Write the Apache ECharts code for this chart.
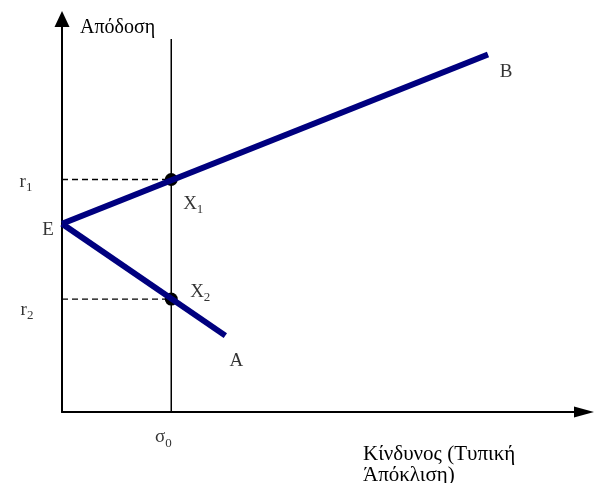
<!DOCTYPE html>
<html>
<head>
<meta charset="utf-8">
<script src="https://cdn.jsdelivr.net/npm/echarts@6/dist/echarts.min.js"></script>
<style>
  html, body { margin: 0; padding: 0; background: #fff; }
  #chart { width: 595px; height: 483px; }
</style>
</head>
<body>
<div id="chart"></div>
<script>
// Risk (σ) / return (r) diagram: two portfolio lines starting at E.
const riskMax = 47.3;
const returnMax = 35.5;

const pointE = [0, 17];
const pointB = [38.6, 32.3];
const pointA = [14.8, 6.9];
const sigma0 = 9.9;
const r1 = 21;
const r2 = 10.2;
const sigmaLineTop = 33.7;

const axisNameY = 'Απόδοση';
const axisNameX = 'Κίνδυνος (Τυπική\nΆπόκλιση)';

const serif = '"Liberation Serif", "DejaVu Serif", serif';
const ink = '#000';
const navy = '#00007f';

const rich = {
  b: { fontFamily: serif, fontSize: 19, color: ink, verticalAlign: 'bottom', padding: [0, 0, 3, 0] },
  s: { fontFamily: serif, fontSize: 13, color: ink, verticalAlign: 'bottom' }
};

function note(coord, main, sub, offset) {
  const text = sub ? '{b|' + main + '}{s|' + sub + '}' : '{b|' + main + '}';
  return {
    value: coord,
    label: { show: true, position: 'inside', formatter: text, offset: offset, rich: rich }
  };
}

const notes = [
  note(pointE, 'E', '', [-14, 8]),
  note(pointB, 'B', '', [18, 19]),
  note(pointA, 'A', '', [11, 27]),
  note([sigma0, r1], 'X', '1', [22, 26]),
  note([sigma0, r2], 'X', '2', [29, -6]),
  note([0, r1], 'r', '1', [-36, 4]),
  note([0, r2], 'r', '2', [-35, 12]),
  note([sigma0, 0], 'σ', '0', [-8, 27])
];

const chart = echarts.init(document.getElementById('chart'));
chart.setOption({
  animation: false,
  backgroundColor: '#fff',
  grid: { left: 62, top: 19, width: 522, height: 393, outerBoundsMode: 'none' },
  xAxis: {
    type: 'value', min: 0, max: riskMax,
    name: axisNameX, nameLocation: 'end', nameGap: -221,
    nameTextStyle: { fontFamily: serif, fontSize: 21, color: ink, align: 'left', verticalAlign: 'top', lineHeight: 21, padding: [32, 0, 0, 0] },
    axisLine: { show: true, symbol: ['none', 'triangle'], symbolSize: [11, 20], lineStyle: { color: ink, width: 2 } },
    axisTick: { show: false }, axisLabel: { show: false }, splitLine: { show: false }
  },
  yAxis: {
    type: 'value', min: 0, max: returnMax,
    name: axisNameY, nameLocation: 'end', nameGap: -9,
    nameTextStyle: { fontFamily: serif, fontSize: 20, color: ink, align: 'left', verticalAlign: 'middle', padding: [0, 0, 0, 18] },
    axisLine: { show: true, symbol: ['none', 'triangle'], symbolSize: [15, 16], lineStyle: { color: ink, width: 2 } },
    axisTick: { show: false }, axisLabel: { show: false }, splitLine: { show: false }
  },
  series: [
    {
      type: 'line', silent: true, symbol: 'none',
      data: [[0, r1], [sigma0, r1]],
      lineStyle: { color: ink, width: 1.3, type: [6, 4] }
    },
    {
      type: 'line', silent: true, symbol: 'none',
      data: [[0, r2], [sigma0, r2]],
      lineStyle: { color: ink, width: 1.3, type: [6, 4] }
    },
    {
      type: 'line', silent: true, symbol: 'none',
      data: [[sigma0, 0], [sigma0, sigmaLineTop]],
      lineStyle: { color: ink, width: 1.5 }
    },
    {
      type: 'line', silent: true, symbol: 'none',
      data: [pointE, pointB],
      lineStyle: { color: navy, width: 6 }
    },
    {
      type: 'line', silent: true, symbol: 'none',
      data: [pointE, pointA],
      lineStyle: { color: navy, width: 6 }
    },
    {
      type: 'scatter', silent: true, symbolSize: 13,
      itemStyle: { color: ink, opacity: 1 },
      data: [[sigma0, r1], [sigma0, r2]]
    },
    {
      type: 'scatter', silent: true, symbolSize: 0,
      itemStyle: { color: 'transparent' },
      data: notes
    }
  ]
});
</script>
</body>
</html>
